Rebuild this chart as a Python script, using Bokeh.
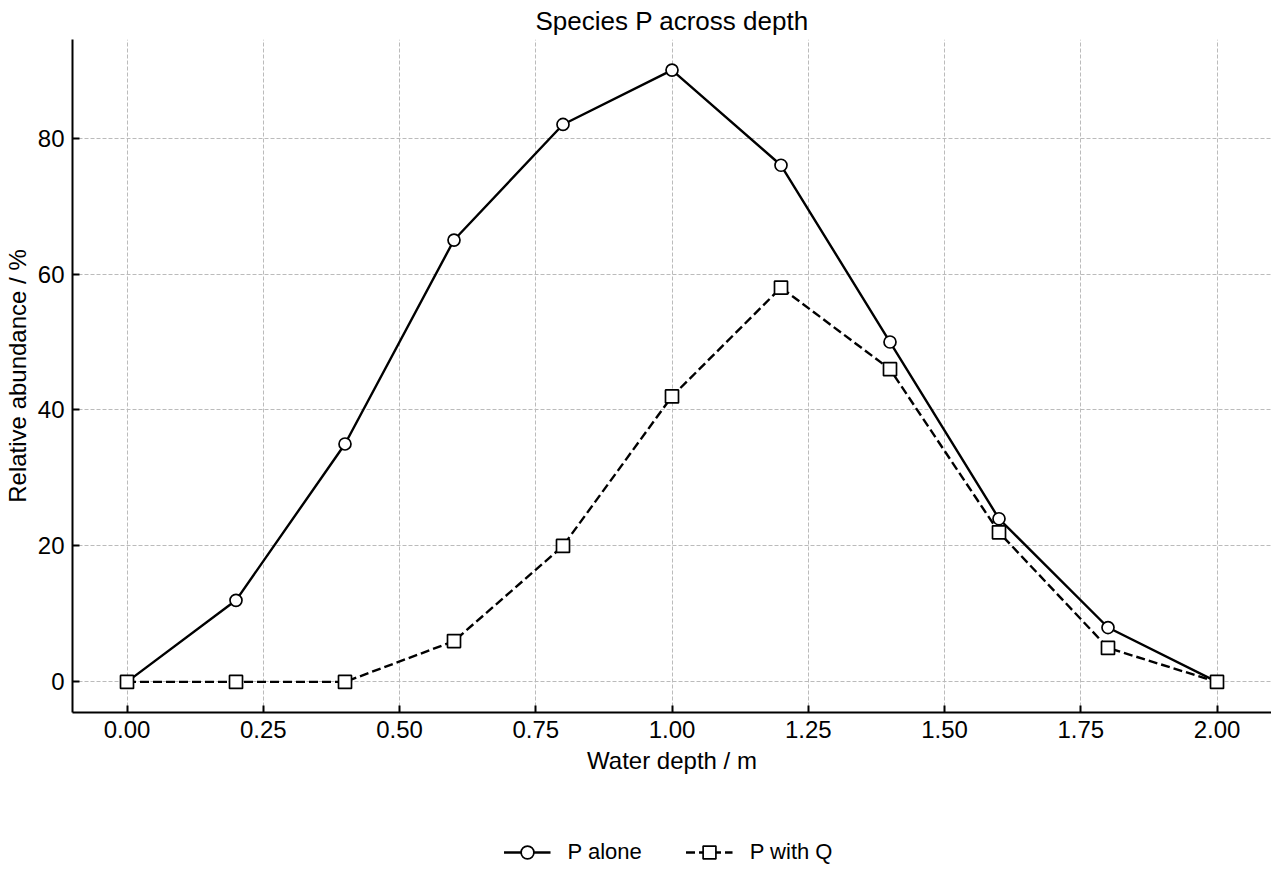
from bokeh.plotting import figure
from bokeh.layouts import column
from bokeh.models import Range1d, Legend, LegendItem
from bokeh.embed import file_html
from bokeh.resources import INLINE

depth = [0.0, 0.2, 0.4, 0.6, 0.8, 1.0, 1.2, 1.4, 1.6, 1.8, 2.0]
p_alone = [0, 12, 35, 65, 82, 90, 76, 50, 24, 8, 0]
p_with_q = [0, 0, 0, 6, 20, 42, 58, 46, 22, 5, 0]

x_ticks = [0.0, 0.25, 0.5, 0.75, 1.0, 1.25, 1.5, 1.75, 2.0]
y_ticks = [0, 20, 40, 60, 80]

FONT = "Liberation Sans"

p = figure(frame_width=1199, frame_height=673, output_backend="svg",
           toolbar_location=None, title="Species P across depth",
           x_axis_label="Water depth / m", y_axis_label="Relative abundance / %",
           min_border_left=65, min_border_right=0, min_border_top=32,
           min_border_bottom=90)
p.x_range = Range1d(-0.1, 2.1)
p.y_range = Range1d(-4.5, 94.5)

p.title.align = "center"
p.title.text_font = FONT
p.title.text_font_size = "26px"
p.title.text_font_style = "normal"
p.title.text_color = "black"
p.title.standoff = 7

p.outline_line_color = None
for ax in (p.xaxis, p.yaxis):
    ax.axis_line_width = 2
    ax.axis_line_color = "black"
    ax.major_tick_in = 7
    ax.major_tick_out = 0
    ax.major_tick_line_width = 2
    ax.major_tick_line_color = "black"
    ax.minor_tick_line_color = None
    ax.major_label_text_font = FONT
    ax.major_label_text_font_size = "24px"
    ax.major_label_text_color = "black"
    ax.major_label_standoff = 8
    ax.axis_label_text_font = FONT
    ax.axis_label_text_font_size = "24px"
    ax.axis_label_text_font_style = "normal"
    ax.axis_label_text_color = "black"

p.xaxis.ticker = x_ticks
p.xaxis.major_label_overrides = {t: f"{t:.2f}" for t in x_ticks}
p.yaxis.ticker = y_ticks
p.xaxis.axis_label_standoff = 6
p.yaxis.axis_label_standoff = 4

p.grid.grid_line_color = "#bbbbbb"
p.grid.grid_line_dash = "4 2"
p.grid.grid_line_width = 1

line_style = dict(line_color="black", line_width=2.4)
alone_marker = dict(marker="circle", size=12, fill_color="white",
                    line_color="black", line_width=1.7)
withq_marker = dict(marker="square", size=13, fill_color="white",
                    line_color="black", line_width=1.7)

p.line(depth, p_alone, **line_style)
p.scatter(depth, p_alone, **alone_marker)
p.line(depth, p_with_q, line_dash="9 4", **line_style)
p.scatter(depth, p_with_q, **withq_marker)

# legend strip under the chart; its proxy glyphs sit outside the visible range
leg = figure(width=1264, height=70, output_backend="svg", toolbar_location=None,
             x_axis_location=None, y_axis_location=None,
             x_range=Range1d(10, 11), y_range=Range1d(10, 11),
             min_border_left=65, min_border_right=0, min_border_top=0,
             min_border_bottom=0)
leg.outline_line_color = None
leg.grid.visible = False
r1 = leg.line(depth[:2], p_with_q[:2], **line_style)
m1 = leg.scatter(depth[:1], p_with_q[:1], **alone_marker)
r2 = leg.line(depth[:2], p_with_q[:2], line_dash="9 4", **line_style)
m2 = leg.scatter(depth[:1], p_with_q[:1], **withq_marker)

legend = Legend(items=[LegendItem(label="P alone", renderers=[r1, m1]),
                       LegendItem(label="P with Q", renderers=[r2, m2])],
                orientation="horizontal", location="bottom_center",
                border_line_color=None, background_fill_alpha=0,
                label_text_font=FONT, label_text_font_size="22px",
                label_text_color="black",
                glyph_width=47, glyph_height=32, spacing=44, margin=4, padding=0)
legend.label_standoff = 17
leg.add_layout(legend, "center")

page = column(p, leg)
open("out.html", "w").write(file_html(page, INLINE))
